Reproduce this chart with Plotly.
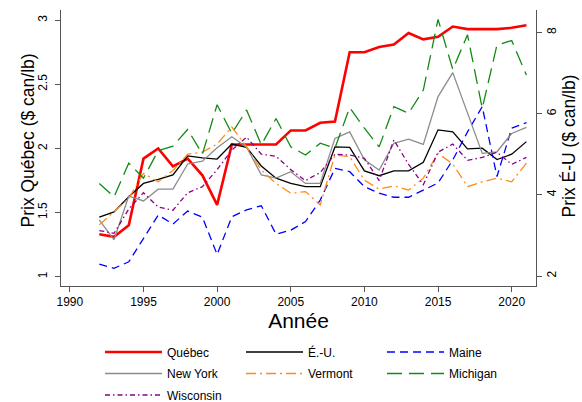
import plotly.graph_objects as go

years = list(range(1992, 2022))

quebec = [1.33, 1.31, 1.40, 1.92, 2.00, 1.86, 1.92, 1.79, 1.56, 2.03,
          2.03, 2.03, 2.03, 2.14, 2.14, 2.20, 2.21, 2.75, 2.75, 2.79,
          2.81, 2.90, 2.85, 2.87, 2.95, 2.93, 2.93, 2.93, 2.94, 2.96]

eu = [3.45, 3.58, 3.95, 4.28, 4.38, 4.49, 4.96, 4.91, 4.88, 5.25,
      5.17, 4.71, 4.41, 4.28, 4.20, 4.20, 5.18, 5.17, 4.59, 4.47,
      4.59, 4.59, 4.80, 5.60, 5.55, 5.13, 5.15, 4.87, 5.00, 5.31]

maine = [2.29, 2.19, 2.35, 2.93, 3.50, 3.28, 3.60, 3.45, 2.53, 3.46,
         3.63, 3.73, 3.03, 3.13, 3.34, 3.87, 4.65, 4.57, 4.20, 4.04,
         3.94, 3.94, 4.12, 4.29, 4.86, 5.55, 6.17, 4.45, 5.64, 5.78]

new_york = [3.38, 2.89, 3.97, 3.85, 4.14, 4.14, 4.76, 4.83, 5.16, 5.43,
            5.17, 4.49, 4.41, 4.57, 4.28, 4.28, 5.39, 5.55, 4.86, 4.61,
            5.27, 5.37, 5.24, 6.42, 7.01, 6.00, 5.02, 5.06, 5.51, 5.66]

vermont = [3.26, 3.58, 3.91, 4.53, 4.32, 4.60, 5.00, 5.05, 5.25, 5.67,
           5.18, 4.61, 4.28, 4.04, 4.08, 3.75, 4.98, 4.94, 4.36, 4.14,
           4.22, 4.12, 4.41, 5.02, 4.76, 4.20, 4.32, 4.41, 4.32, 4.78]

michigan = [4.28, 3.95, 4.78, 4.41, 5.09, 5.20, 5.61, 5.00, 6.22, 5.51,
            6.09, 5.23, 5.88, 5.18, 4.98, 5.27, 5.15, 6.15, 5.64, 5.18,
            6.17, 6.01, 6.58, 8.32, 7.09, 7.94, 6.13, 7.69, 7.80, 6.95]

wisconsin = [3.12, 3.05, 3.65, 4.05, 3.70, 3.62, 4.05, 4.20, 4.62, 5.10,
             5.42, 5.00, 4.95, 4.62, 4.35, 4.55, 5.00, 4.98, 4.90, 4.35,
             5.35, 4.75, 4.25, 5.05, 5.25, 4.85, 4.92, 5.05, 4.75, 4.92]

x_ticks = [1990, 1995, 2000, 2005, 2010, 2015, 2020]
left_ticks = [1, 1.5, 2, 2.5, 3]
right_ticks = [2, 4, 6, 8]

FONT = "Arial, Liberation Sans, sans-serif"
AX = "#555555"

series = [
    ("Québec", quebec, "y", "#ff0000", 2.6, "solid", "legend"),
    ("É.-U.", eu, "y2", "#000000", 1.3, "solid", "legend"),
    ("Maine", maine, "y2", "#0000ff", 1.3, "8px,5px", "legend"),
    ("New York", new_york, "y2", "#8c8c8c", 1.3, "solid", "legend2"),
    ("Vermont", vermont, "y2", "#ff8c1a", 1.3, "10px,4px,2px,4px", "legend2"),
    ("Michigan", michigan, "y2", "#138a13", 1.3, "15px,7px", "legend2"),
    ("Wisconsin", wisconsin, "y2", "#8b008b", 1.3, "5px,3px,1.5px,3px", "legend3"),
]

fig = go.Figure()
for name, vals, ax, color, w, dash, leg in series:
    fig.add_trace(go.Scatter(x=years, y=vals, name=name, yaxis=ax, mode="lines", legend=leg,
                             line=dict(color=color, width=w, dash=dash)))


def leg_cfg(ypix):
    return dict(orientation="h", x=(100 - 61) / 475, xanchor="left",
                y=(286 - ypix) / 276, yanchor="middle",
                entrywidth=69, entrywidthmode="pixels", itemwidth=57,
                font=dict(size=12, family=FONT), bgcolor="rgba(0,0,0,0)",
                borderwidth=0, traceorder="normal")


fig.update_layout(
    width=582, height=402,
    margin=dict(l=61, r=46, t=10, b=116, autoexpand=False),
    paper_bgcolor="white", plot_bgcolor="white",
    font=dict(family=FONT, size=12, color="#000000"),
    showlegend=True,
    legend=leg_cfg(352),
    legend2=leg_cfg(373.5),
    legend3=leg_cfg(395),
    xaxis=dict(range=[1989.4, 2021.65], tickvals=x_ticks, showgrid=False, zeroline=False,
               showline=True, linecolor=AX, linewidth=1, ticks="outside", ticklen=5,
               tickcolor=AX, tickfont=dict(size=12),
               title=dict(text="Année", font=dict(size=21), standoff=4)),
    yaxis=dict(range=[0.927, 3.079], tickvals=left_ticks, ticktext=["1", "1.5", "2", "2.5", "3"],
               showgrid=False, zeroline=False, showline=True, linecolor=AX, linewidth=1,
               ticks="outside", ticklen=5, tickcolor=AX, tickangle=-90, tickfont=dict(size=12),
               ticklabelstandoff=3, automargin=False),
    yaxis2=dict(range=[1.754, 8.552], tickvals=right_ticks, overlaying="y", side="right",
                showgrid=False, zeroline=False, showline=True, linecolor=AX, linewidth=1,
                ticks="outside", ticklen=5, tickcolor=AX, tickangle=-90, tickfont=dict(size=12),
                automargin=False),
    annotations=[
        dict(text="Prix Québec ($ can/lb)", textangle=-90, xref="paper", yref="paper",
             x=(27 - 61) / 475, y=0.5 + 7.5 / 276, xanchor="center", yanchor="middle",
             showarrow=False, font=dict(size=17.5, family=FONT, color="#000000")),
        dict(text="Prix É-U ($ can/lb)", textangle=-90, xref="paper", yref="paper",
             x=1 + (568 - 536) / 475, y=0.5 + 1.5 / 276, xanchor="center", yanchor="middle",
             showarrow=False, font=dict(size=17.5, family=FONT, color="#000000")),
    ],
)

fig.write_html("out.html", config={"displayModeBar": False},
               post_script="document.body.style.margin='0';")
